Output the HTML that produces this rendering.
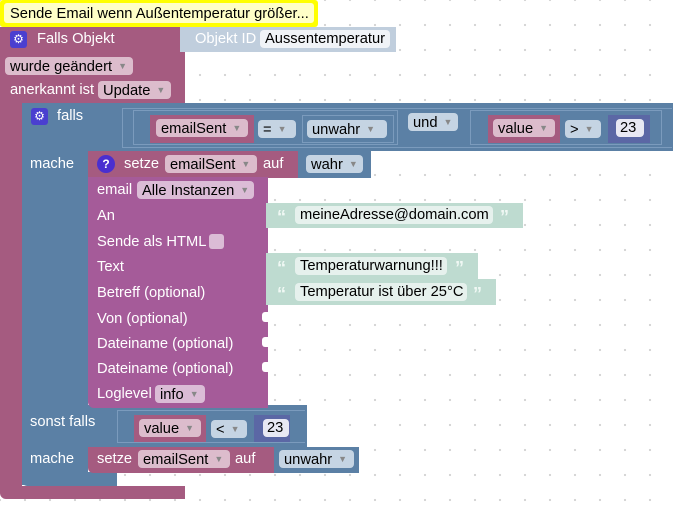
<!DOCTYPE html>
<html><head><meta charset="utf-8"><style>
*{box-sizing:border-box;margin:0;padding:0}
body{width:673px;height:508px;overflow:hidden;background:#fff;
background-image:radial-gradient(circle,#d4d4d4 1px,transparent 1.3px);background-size:25px 25px;background-position:-12.5px -12.5px;
font-family:"Liberation Sans",Arial,sans-serif;font-size:14.7px;position:relative}
.a{position:absolute}
.t{position:absolute;color:#fff;white-space:nowrap;line-height:16px}
.p{position:absolute;border-radius:4px;color:#000;white-space:nowrap;line-height:18px;height:18px;padding:0 5px;overflow:hidden}
.ar{font-size:9px;margin-left:6px;vertical-align:2px;color:#888}
.ev{background:#a55b80}.ifb{background:#5b80a5}.em{background:#a55b99}
.pm{background:#dcbccc}.pb{background:#c5d4e3}.pe{background:#dbbcd6}.pg{background:#e6f1ed}
.gear{position:absolute;width:17px;height:17px;border-radius:3px;background:#4a3fd0;color:#fff;font-size:12px;text-align:center;line-height:17px}
.q{position:absolute;width:18px;height:18px;border-radius:50%;background:#4a2fd0;color:#fff;font-size:12px;font-weight:bold;text-align:center;line-height:18px}
.gr{background:#bedbd0}
.qq{position:absolute;color:#f0f8f4;font-size:18px;font-weight:bold;line-height:16px}
</style></head><body>
<div class="a" style="left:0;top:0;width:318px;height:27px;background:#ffff00;border-radius:3px"></div>
<div class="a" style="left:4px;top:3px;width:310px;height:20px;background:#ffffc7;border-radius:3px"></div>
<div class="t" style="left:10px;top:6px;color:#000">Sende Email wenn Außentemperatur größer...</div>

<div class="a ev" style="left:0;top:27px;width:185px;height:76px"></div>
<div class="a ev" style="left:0;top:100px;width:22px;height:390px"></div>
<div class="a ev" style="left:0;top:486px;width:185px;height:13px;border-radius:0 0 0 6px"></div>
<div class="gear" style="left:10px;top:31px">⚙</div>
<div class="t" style="left:37px;top:31px">Falls Objekt</div>
<div class="p pm" style="left:5px;top:57px;width:128px">wurde geändert<span class="ar">▼</span></div>
<div class="t" style="left:10px;top:82px">anerkannt ist</div>
<div class="p pm" style="left:98px;top:81px;width:73px">Update<span class="ar">▼</span></div>
<div class="a" style="left:180px;top:27px;width:216px;height:25px;background:#c0cedd"></div>
<div class="t" style="left:195px;top:31px;color:#fff">Objekt ID</div>
<div class="p" style="left:260px;top:30px;background:#f0f3f7;width:130px">Aussentemperatur</div>

<div class="a ifb" style="left:22px;top:103px;width:651px;height:48px"></div>
<div class="a ifb" style="left:22px;top:150px;width:66px;height:335px"></div>
<div class="a ifb" style="left:22px;top:405px;width:285px;height:42px"></div>
<div class="a ifb" style="left:22px;top:472px;width:95px;height:14px;border-radius:0 0 0 5px"></div>
<div class="gear" style="left:31px;top:108px">⚙</div>
<div class="t" style="left:57px;top:108px">falls</div>
<div class="t" style="left:30px;top:156px">mache</div>
<div class="t" style="left:30px;top:414px">sonst falls</div>
<div class="t" style="left:30px;top:451px">mache</div>
<div class="a" style="left:122px;top:108px;width:550px;height:40px;border:1px solid #7b9bbd;border-right:none"></div>
<div class="a" style="left:133px;top:110px;width:265px;height:35px;border:1px solid #7b9bbd"></div>
<div class="a ev" style="left:150px;top:115px;width:104px;height:28px"></div>
<div class="p pm" style="left:156px;top:119px;width:92px">emailSent<span class="ar">▼</span></div>
<div class="p pb" style="left:258px;top:120px;width:38px">=<span class="ar">▼</span></div>
<div class="a" style="left:302px;top:115px;width:92px;height:28px;border:1px solid #7b9bbd"></div>
<div class="p pb" style="left:307px;top:120px;width:80px">unwahr<span class="ar">▼</span></div>
<div class="p pb" style="left:408px;top:113px;width:50px">und<span class="ar">▼</span></div>
<div class="a" style="left:470px;top:110px;width:192px;height:35px;border:1px solid #7b9bbd"></div>
<div class="a ev" style="left:488px;top:115px;width:72px;height:28px"></div>
<div class="p pm" style="left:493px;top:119px;width:62px">value<span class="ar">▼</span></div>
<div class="p pb" style="left:565px;top:120px;width:36px">&gt;<span class="ar">▼</span></div>
<div class="a" style="left:608px;top:115px;width:42px;height:28px;background:#5b67a5"></div>
<div class="p" style="left:616px;top:119px;width:28px;background:#e8e8f3;padding:0 4px">23</div>

<div class="a ev" style="left:88px;top:151px;width:212px;height:27px"></div>
<div class="q" style="left:97px;top:155px">?</div>
<div class="t" style="left:124px;top:156px">setze</div>
<div class="p pm" style="left:165px;top:155px;width:92px">emailSent<span class="ar">▼</span></div>
<div class="t" style="left:263px;top:156px">auf</div>
<div class="a ifb" style="left:298px;top:151px;width:73px;height:27px"></div>
<div class="p pb" style="left:306px;top:155px;width:57px">wahr<span class="ar">▼</span></div>

<div class="a em" style="left:88px;top:177px;width:180px;height:231px;border-radius:0 0 0 6px"></div>
<div class="t" style="left:97px;top:182px">email</div>
<div class="p pe" style="left:137px;top:181px;width:117px">Alle Instanzen<span class="ar">▼</span></div>
<div class="t" style="left:97px;top:208px">An</div>
<div class="t" style="left:97px;top:234px">Sende als HTML</div>
<div class="a" style="left:209px;top:234px;width:15px;height:15px;border-radius:3px;background:#dbbcd6"></div>
<div class="t" style="left:97px;top:259px">Text</div>
<div class="t" style="left:97px;top:285px">Betreff (optional)</div>
<div class="t" style="left:97px;top:311px">Von (optional)</div>
<div class="t" style="left:97px;top:336px">Dateiname (optional)</div>
<div class="t" style="left:97px;top:361px">Dateiname (optional)</div>
<div class="t" style="left:97px;top:386px">Loglevel</div>
<div class="p pe" style="left:155px;top:385px;width:50px">info<span class="ar">▼</span></div>
<div class="a" style="left:262px;top:312px;width:6px;height:10px;background:#fff;border-radius:3px 0 0 3px"></div>
<div class="a" style="left:262px;top:337px;width:6px;height:10px;background:#fff;border-radius:3px 0 0 3px"></div>
<div class="a" style="left:262px;top:362px;width:6px;height:10px;background:#fff;border-radius:3px 0 0 3px"></div>

<div class="a gr" style="left:266px;top:203px;width:257px;height:25px"></div>
<div class="qq" style="left:277px;top:209px">“</div>
<div class="p pg" style="left:295px;top:206px;width:198px">meineAdresse@domain.com</div>
<div class="qq" style="left:500px;top:209px">”</div>
<div class="a gr" style="left:266px;top:253px;width:212px;height:26px"></div>
<div class="qq" style="left:277px;top:260px">“</div>
<div class="p pg" style="left:295px;top:257px;width:152px">Temperaturwarnung!!!</div>
<div class="qq" style="left:455px;top:260px">”</div>
<div class="a gr" style="left:266px;top:279px;width:230px;height:26px"></div>
<div class="qq" style="left:277px;top:286px">“</div>
<div class="p pg" style="left:295px;top:283px;width:172px">Temperatur ist über 25°C</div>
<div class="qq" style="left:473px;top:286px">”</div>

<div class="a" style="left:117px;top:410px;width:188px;height:33px;border:1px solid #7b9bbd;border-right:none"></div>
<div class="a ev" style="left:134px;top:415px;width:72px;height:27px"></div>
<div class="p pm" style="left:139px;top:419px;width:62px">value<span class="ar">▼</span></div>
<div class="p pb" style="left:211px;top:420px;width:36px">&lt;<span class="ar">▼</span></div>
<div class="a" style="left:254px;top:415px;width:36px;height:27px;background:#5b67a5"></div>
<div class="p" style="left:263px;top:419px;width:26px;background:#e8e8f3;padding:0 4px">23</div>

<div class="a ev" style="left:88px;top:447px;width:188px;height:26px;border-radius:0 0 0 5px"></div>
<div class="t" style="left:97px;top:451px">setze</div>
<div class="p pm" style="left:138px;top:450px;width:92px">emailSent<span class="ar">▼</span></div>
<div class="t" style="left:235px;top:451px">auf</div>
<div class="a ifb" style="left:274px;top:447px;width:85px;height:26px"></div>
<div class="p pb" style="left:279px;top:450px;width:75px">unwahr<span class="ar">▼</span></div>
</body></html>
